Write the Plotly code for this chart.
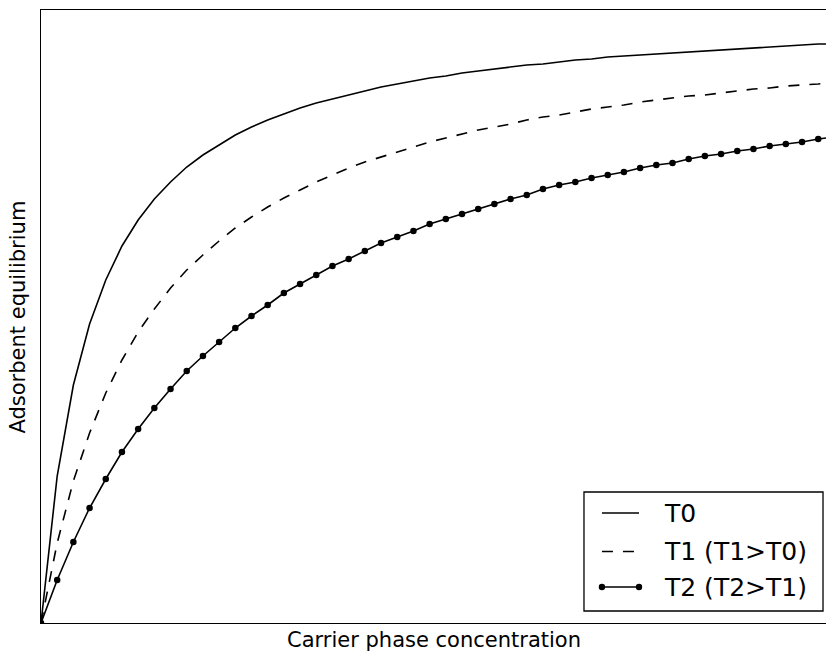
import plotly.graph_objects as go

# carrier phase concentration (arbitrary units, no ticks shown)
concentration = list(range(50))

# adsorbent equilibrium loadings (arbitrary units)
t0 = [0, 147, 238, 299, 343, 377, 403, 424, 441, 456,
      468, 478, 488, 496, 503, 509, 515, 520, 524, 528,
      532, 536, 539, 542, 545, 547, 550, 552, 554, 556,
      558, 559, 561, 563, 564, 566, 567, 568, 569, 570,
      571, 572, 573, 574, 575, 576, 577, 578, 579, 579]
t1 = [0, 80, 142, 190, 230, 263, 291, 314, 335, 353,
      368, 382, 395, 406, 416, 425, 433, 441, 448, 455,
      461, 466, 471, 476, 481, 485, 489, 493, 496, 499,
      503, 506, 508, 511, 514, 516, 518, 521, 523, 525,
      527, 528, 530, 532, 534, 535, 537, 538, 539, 541]
t2 = [0, 43, 81, 115, 144, 171, 194, 215, 234, 252,
      267, 281, 295, 307, 318, 330, 339, 348, 357, 364,
      372, 380, 386, 392, 399, 404, 409, 414, 419, 424,
      428, 434, 438, 441, 445, 448, 451, 455, 458, 460,
      464, 467, 469, 472, 474, 477, 479, 481, 484, 486]

series_names = ["T0", "T1 (T1>T0)", "T2 (T2>T1)"]
x_label = "Carrier phase concentration"
y_label = "Adsorbent equilibrium"

FONT = "DejaVu Sans"
LW = 1.6
DASH = "11px,10px"

fig = go.Figure()
fig.add_trace(go.Scatter(x=concentration, y=t0, mode="lines",
                         line=dict(color="black", width=LW), name=series_names[0],
                         showlegend=False))
fig.add_trace(go.Scatter(x=concentration, y=t1, mode="lines",
                         line=dict(color="black", width=LW, dash=DASH), name=series_names[1],
                         showlegend=False))
fig.add_trace(go.Scatter(x=concentration, y=t2, mode="lines+markers",
                         line=dict(color="black", width=LW),
                         marker=dict(color="black", size=6.5), name=series_names[2],
                         showlegend=False))

# custom legend (box, samples, labels)
shapes = [dict(type="rect", xref="paper", yref="paper", x0=0.6917, x1=0.9962,
               y0=0.0196, y1=0.2137, line=dict(color="black", width=1.3),
               fillcolor="white", layer="above")]
rows_y = [0.1794, 0.1166, 0.0587]
sx0, sx1 = 0.7146, 0.7618
dashes = [None, DASH, None]
for i, name in enumerate(series_names):
    ln = dict(color="black", width=LW)
    if dashes[i]:
        ln["dash"] = dashes[i]
    shapes.append(dict(type="line", xref="paper", yref="paper", x0=sx0, x1=sx1,
                       y0=rows_y[i], y1=rows_y[i], line=ln, layer="above"))
for xm in (sx0, sx1):
    shapes.append(dict(type="circle", xref="paper", yref="paper",
                       xsizemode="pixel", ysizemode="pixel",
                       xanchor=xm, yanchor=rows_y[2], x0=-3.2, x1=3.2, y0=-3.2, y1=3.2,
                       fillcolor="black", line=dict(color="black", width=0),
                       layer="above"))

annotations = []
for i, name in enumerate(series_names):
    annotations.append(dict(text=name, xref="paper", yref="paper", x=0.7911,
                            y=rows_y[i], xanchor="left", yanchor="middle",
                            showarrow=False, font=dict(family=FONT, size=25, color="black")))
annotations.append(dict(text=x_label, xref="paper", yref="paper", x=0.5, y=-0.0277,
                        xanchor="center", yanchor="middle", showarrow=False,
                        font=dict(family=FONT, size=21, color="black")))
annotations.append(dict(text=y_label, xref="paper", yref="paper", x=-0.0293, y=0.5,
                        xanchor="center", yanchor="middle", textangle=-90, showarrow=False,
                        font=dict(family=FONT, size=21, color="black")))

fig.update_layout(
    width=826, height=653,
    margin=dict(l=41, r=0, t=10, b=30, pad=0),
    paper_bgcolor="white", plot_bgcolor="white",
    showlegend=False,
    shapes=shapes, annotations=annotations,
    xaxis=dict(range=[0, 48.48], showticklabels=False, ticks="", showgrid=False,
               zeroline=False, showline=True, linecolor="black", linewidth=1.3,
               mirror=True),
    yaxis=dict(range=[0, 613], showticklabels=False, ticks="", showgrid=False,
               zeroline=False, showline=True, linecolor="black", linewidth=1.3,
               mirror=False),
)

fig.write_html("out.html", config={"displayModeBar": False},
               post_script="document.body.style.margin='0';")
